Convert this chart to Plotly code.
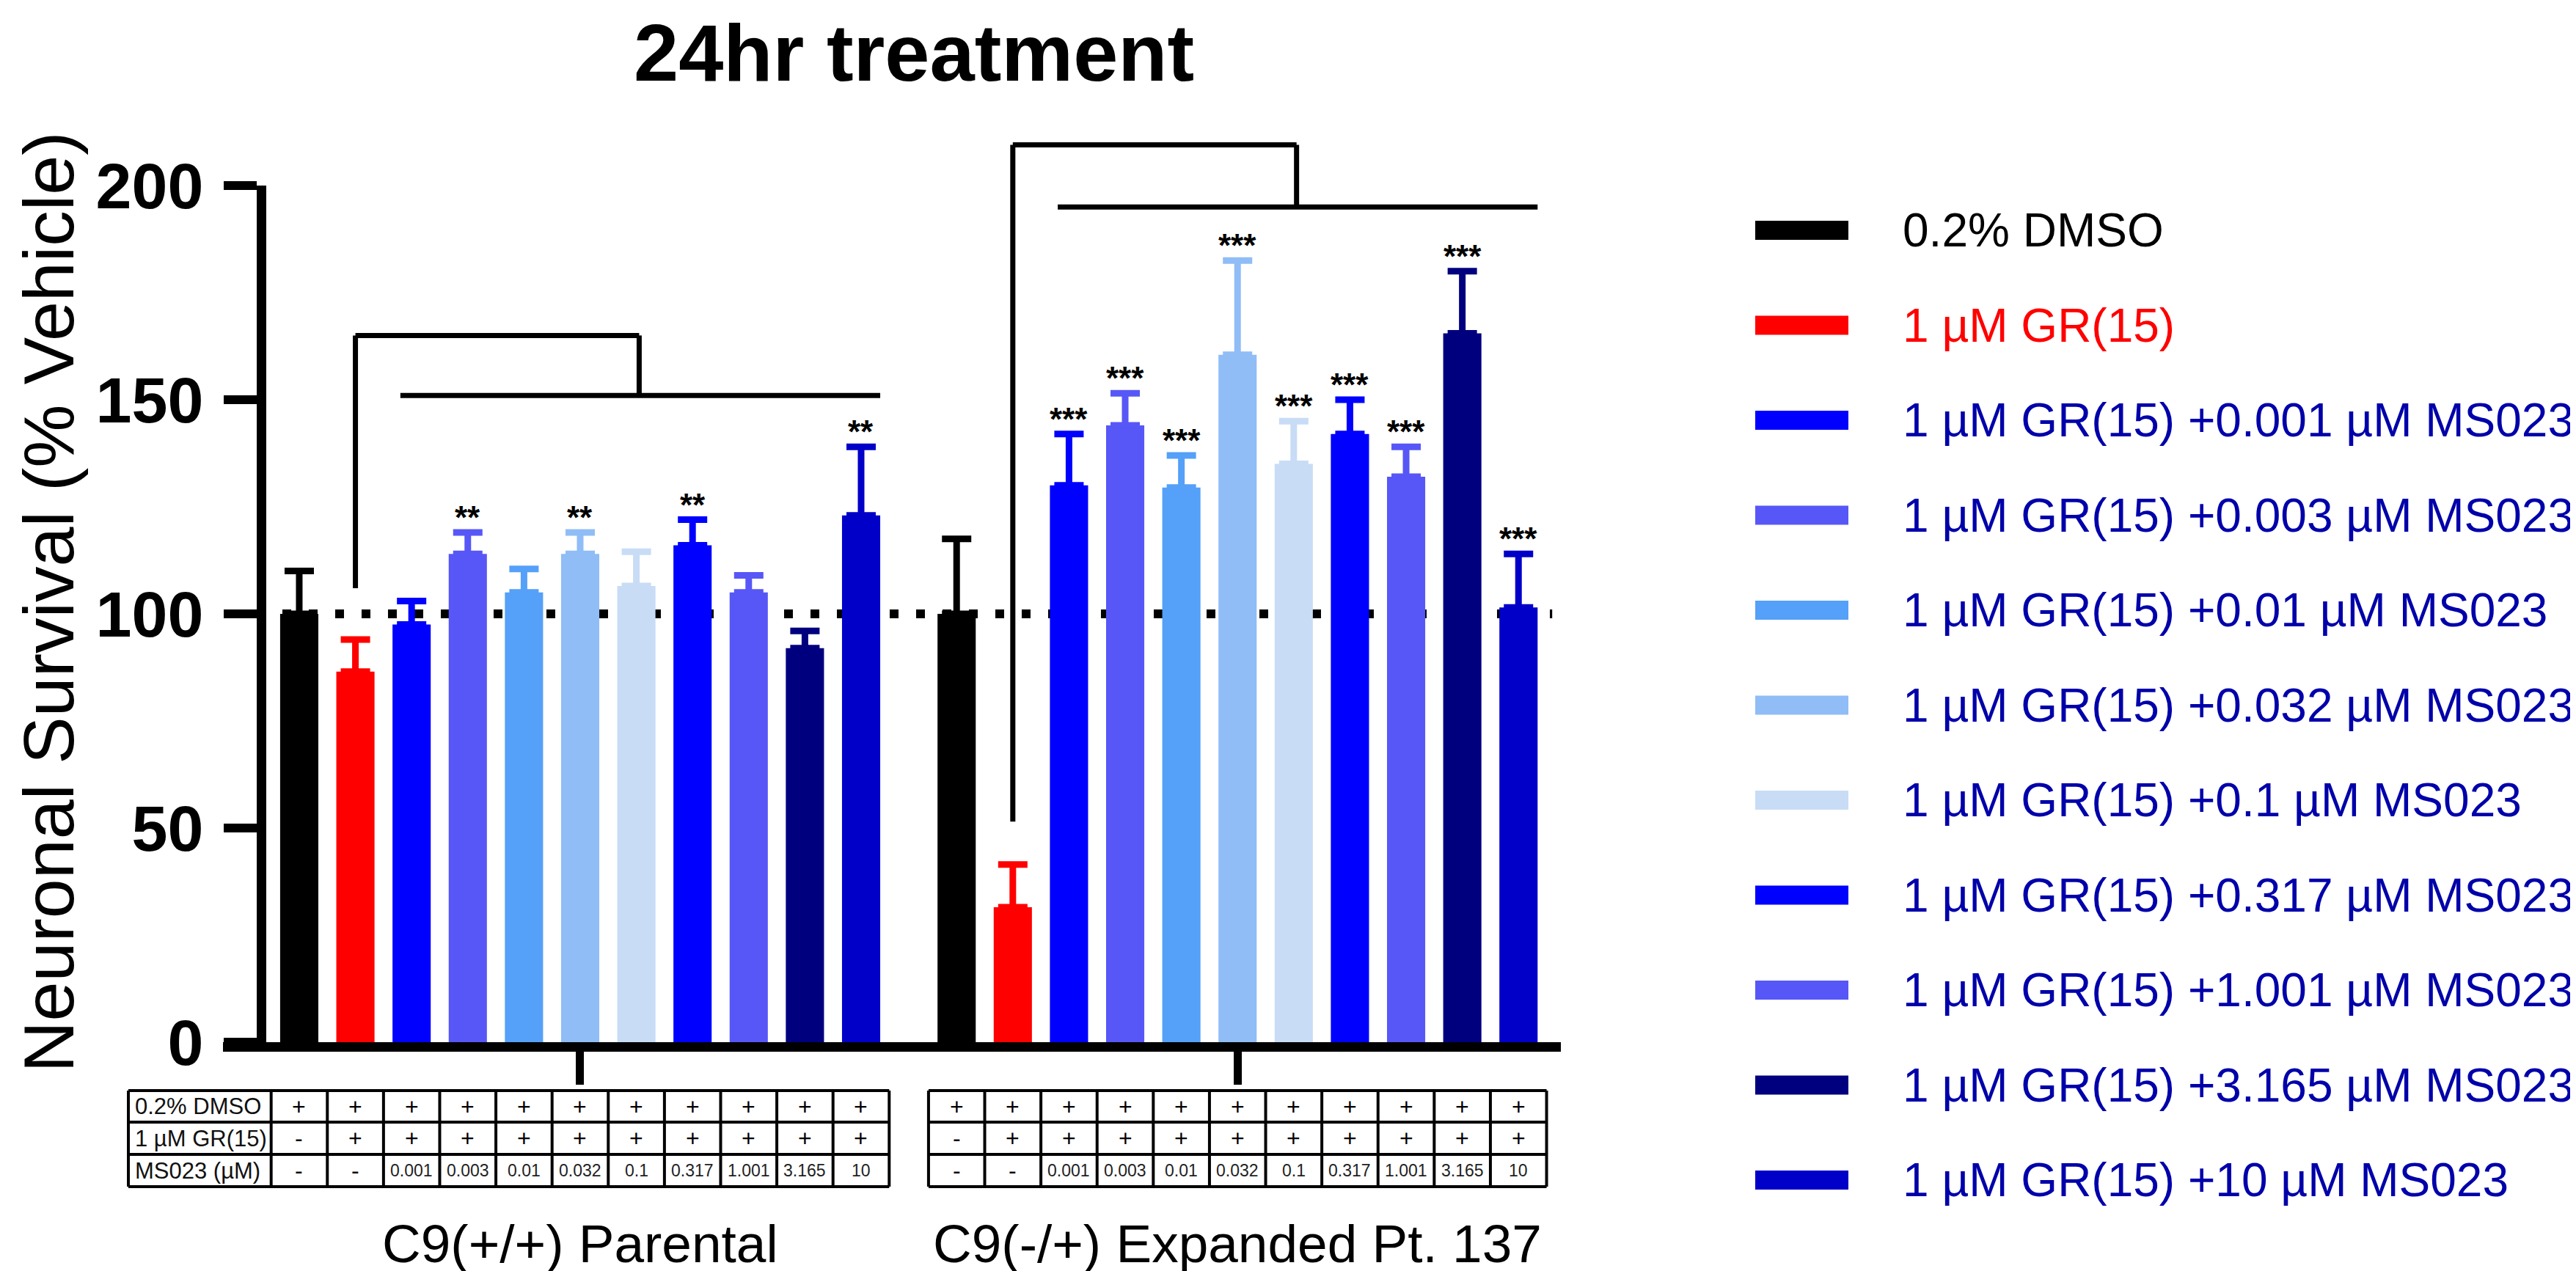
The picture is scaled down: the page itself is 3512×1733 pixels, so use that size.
import plotly.graph_objects as go

# ---- data ----
conditions = [
    "0.2% DMSO",
    "1 µM GR(15)",
    "1 µM GR(15) +0.001 µM MS023",
    "1 µM GR(15) +0.003 µM MS023",
    "1 µM GR(15) +0.01 µM MS023",
    "1 µM GR(15) +0.032 µM MS023",
    "1 µM GR(15) +0.1 µM MS023",
    "1 µM GR(15) +0.317 µM MS023",
    "1 µM GR(15) +1.001 µM MS023",
    "1 µM GR(15) +3.165 µM MS023",
    "1 µM GR(15) +10 µM MS023",
]
colors = ["#000000", "#FF0000", "#0000FF", "#5757F7", "#55A0F8", "#90BDF6",
          "#C8DCF6", "#0000FF", "#5757F7", "#00007F", "#0000C8"]
legend_text_colors = ["#000000", "#FF0000"] + ["#0000AA"] * 9

groups = ["C9(+/+) Parental", "C9(-/+) Expanded Pt. 137"]
parental_mean = [100, 86.5, 97.5, 114, 105, 114, 106.5, 116, 105, 92, 123]
parental_err = [10, 7.5, 5.5, 5, 5.5, 5, 8, 6, 4, 4, 16]
parental_sig = ["", "", "", "**", "", "**", "", "**", "", "", "**"]
expanded_mean = [100, 31.5, 130, 144, 129.5, 160.5, 135, 142, 132, 165.5, 101.5]
expanded_err = [17.5, 10, 12, 7.5, 7.5, 22, 10, 8, 7, 14.5, 12.5]
expanded_sig = ["", ""] + ["***"] * 9

row_labels = ["0.2% DMSO", "1 µM GR(15)", "MS023 (µM)"]
dmso_row = ["+"] * 11
gr_row = ["-"] + ["+"] * 10
ms023_row = ["-", "-", "0.001", "0.003", "0.01", "0.032", "0.1", "0.317", "1.001", "3.165", "10"]

y_ticks = [0, 50, 100, 150, 200]
vehicle_level = 100
# significance brackets: stem bottom, top bar, lower bar (per group)
bracket_stem = [106, 51.5]
bracket_top = [165, 209.5]
bracket_low = [151, 195]

# ---- layout geometry (pixels) ----
W, H = 3512, 1733
PL, PR, PT, PB = 355, 2120, 245, 1413
GROUP_OFFSET = 11.7
X_RANGE = [-0.587, 22.454]
Y_MAX = 200
FONT = "Arial, Liberation Sans, sans-serif"


def xu(u):  # data x -> paper
    return (u - X_RANGE[0]) / (X_RANGE[1] - X_RANGE[0])


def xpx(p):  # pixel x -> paper
    return (p - PL) / (PR - PL)


def ypx(p):  # pixel y -> paper
    return (PB - p) / (PB - PT)


n = len(conditions)
fig = go.Figure()

# bars: one trace per condition, one bar in each cell line group
for i in range(n):
    fig.add_trace(go.Bar(
        x=[i, GROUP_OFFSET + i],
        y=[parental_mean[i], expanded_mean[i]],
        width=0.68,
        marker=dict(color=colors[i], line=dict(width=0)),
        error_y=dict(type="data", symmetric=False,
                     array=[parental_err[i], expanded_err[i]], arrayminus=[0, 0],
                     color=colors[i], thickness=9, width=20),
        name=conditions[i],
        showlegend=False,
    ))

shapes = []
annotations = []

# dotted line at vehicle level (behind the bars)
shapes.append(dict(type="line", xref="x", yref="y", x0=-0.3, x1=22.3,
                   y0=vehicle_level, y1=vehicle_level, layer="below",
                   line=dict(color="black", width=12, dash="12px,24px")))

# x-axis extension to the left of the y axis
shapes.append(dict(type="line", xref="paper", yref="paper",
                   x0=xpx(296), x1=0, y0=ypx(1419.5), y1=ypx(1419.5),
                   line=dict(color="black", width=13)))

# significance brackets
for g in range(2):
    off = g * GROUP_OFFSET
    stem_x = off + 1
    mid_x = off + 6.05
    lw = dict(color="black", width=7)
    shapes += [
        dict(type="line", xref="x", yref="paper", x0=stem_x, x1=stem_x,
             y0=bracket_stem[g] / Y_MAX, y1=bracket_top[g] / Y_MAX, line=lw),
        dict(type="line", xref="x", yref="paper", x0=stem_x, x1=mid_x,
             y0=bracket_top[g] / Y_MAX, y1=bracket_top[g] / Y_MAX, line=lw),
        dict(type="line", xref="x", yref="paper", x0=mid_x, x1=mid_x,
             y0=bracket_top[g] / Y_MAX, y1=bracket_low[g] / Y_MAX, line=lw),
        dict(type="line", xref="x", yref="paper", x0=off + 1.8, x1=off + 10.34,
             y0=bracket_low[g] / Y_MAX, y1=bracket_low[g] / Y_MAX, line=lw),
    ]

# significance stars
for g, (means, errs, sigs) in enumerate([(parental_mean, parental_err, parental_sig),
                                        (expanded_mean, expanded_err, expanded_sig)]):
    for i in range(n):
        if sigs[i]:
            annotations.append(dict(x=g * GROUP_OFFSET + i, y=means[i] + errs[i],
                                    xref="x", yref="y", text="<b>%s</b>" % sigs[i],
                                    showarrow=False, xanchor="center", yanchor="bottom",
                                    yshift=-6,
                                    font=dict(family=FONT, size=44, color="black")))

# treatment tables under each group
row_edges = [1479, 1522, 1566, 1610]
rows = [dmso_row, gr_row, ms023_row]
tline = dict(color="black", width=4)
for g in range(2):
    off = g * GROUP_OFFSET
    left = xpx(167) if g == 0 else xu(off - 0.5)
    right = xu(off + n - 0.5)
    for e in row_edges:
        shapes.append(dict(type="line", xref="paper", yref="paper", x0=left, x1=right,
                           y0=ypx(e), y1=ypx(e), line=tline))
    col_edges = [xu(off + i - 0.5) for i in range(n + 1)]
    if g == 0:
        col_edges = [left] + col_edges
    for c in col_edges:
        shapes.append(dict(type="line", xref="paper", yref="paper", x0=c, x1=c,
                           y0=ypx(row_edges[0]), y1=ypx(row_edges[-1]), line=tline))
    for r, vals in enumerate(rows):
        yc = ypx((row_edges[r] + row_edges[r + 1]) / 2)
        if g == 0:
            annotations.append(dict(x=xpx(174), y=yc, xref="paper", yref="paper",
                                    text=row_labels[r], showarrow=False,
                                    xanchor="left", yanchor="middle",
                                    font=dict(family=FONT, size=31, color="#111")))
        for i, v in enumerate(vals):
            small = r == 2 and v != "-"
            annotations.append(dict(x=xu(off + i), y=yc, xref="paper", yref="paper",
                                    text=v, showarrow=False,
                                    xanchor="center", yanchor="middle",
                                    font=dict(family=FONT, size=23 if small else 32,
                                              color="#222" if small else "black")))
    annotations.append(dict(x=xu(off + 5), y=ypx(1687), xref="paper", yref="paper",
                            text=groups[g], showarrow=False,
                            xanchor="center", yanchor="middle",
                            font=dict(family=FONT, size=73, color="black")))

# legend drawn by hand (long bar swatches)
for k in range(n):
    yc = 306 + k * 129.5
    shapes.append(dict(type="rect", xref="paper", yref="paper",
                       x0=xpx(2385), x1=xpx(2512), y0=ypx(yc - 13), y1=ypx(yc + 13),
                       fillcolor=colors[k], line=dict(width=0)))
    annotations.append(dict(x=xpx(2584), y=ypx(yc), xref="paper", yref="paper",
                            text=conditions[k], showarrow=False,
                            xanchor="left", yanchor="middle",
                            font=dict(family=FONT, size=64, color=legend_text_colors[k])))

# title and y-axis title
annotations.append(dict(x=0.5, y=ypx(0), xref="paper", yref="paper",
                        text="<b>24hr treatment</b>", showarrow=False,
                        xanchor="center", yanchor="top",
                        font=dict(family=FONT, size=110, color="black")))
annotations.append(dict(x=xpx(2), y=ypx(813), xref="paper", yref="paper",
                        text="Neuronal Survival (% Vehicle)", showarrow=False,
                        textangle=-90, xanchor="left", yanchor="middle",
                        font=dict(family=FONT, size=97, color="black")))

fig.update_layout(
    width=W, height=H,
    margin=dict(l=PL, r=W - PR, t=PT, b=H - PB, pad=0),
    paper_bgcolor="white", plot_bgcolor="white",
    barmode="overlay",
    shapes=shapes, annotations=annotations,
    xaxis=dict(range=X_RANGE, showgrid=False, zeroline=False,
               showline=True, linecolor="black", linewidth=13,
               tickmode="array", tickvals=[5, GROUP_OFFSET + 5], ticktext=["", ""],
               ticks="outside", ticklen=45, tickwidth=11, tickcolor="black"),
    yaxis=dict(range=[0, Y_MAX], showgrid=False, zeroline=False,
               showline=True, linecolor="black", linewidth=13,
               tickmode="array", tickvals=y_ticks,
               ticks="outside", ticklen=45, tickwidth=12, tickcolor="black",
               ticklabelstandoff=10,
               tickfont=dict(family=FONT, size=88, color="black", weight="bold")),
)

fig.write_html("out.html")
